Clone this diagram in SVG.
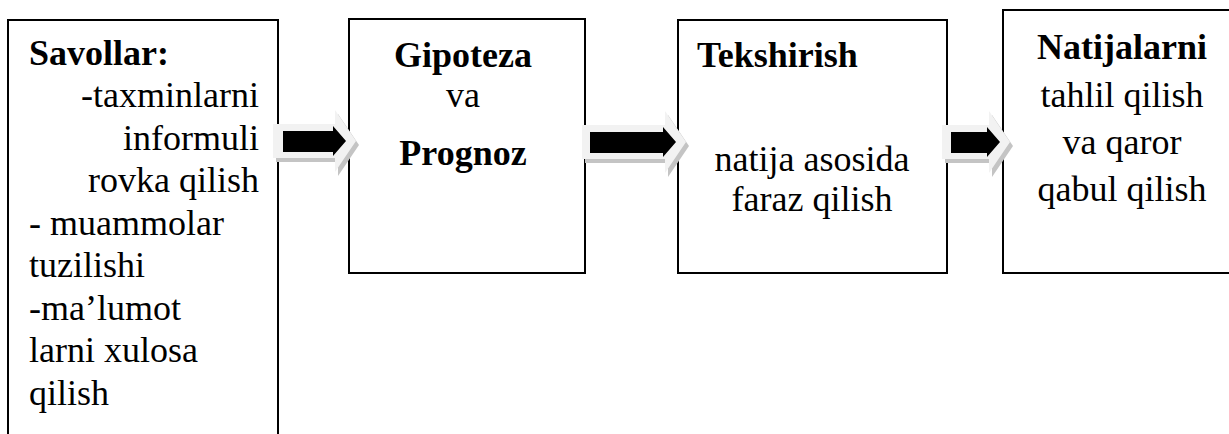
<svg xmlns="http://www.w3.org/2000/svg" width="1229" height="434" viewBox="0 0 1229 434">
<style>
.box{fill:#fff;stroke:#000;stroke-width:2}
text{font-family:'Liberation Serif','Times New Roman',serif;font-size:36px;fill:#000}
.b{font-weight:bold}
.m{text-anchor:middle}
.e{text-anchor:end}
.out{fill:#f2f2f2}
.in{fill:#000}
.sh{fill:#c4c4c4}
</style>
<rect width="1229" height="434" fill="#fff"/>
<g id="node1">
  <rect class="box" x="8" y="20" width="270" height="430"/>
  <text class="b" x="29" y="65">Savollar:</text>
  <text class="e" x="259" y="107">-taxminlarni</text>
  <text class="e" x="259" y="150">informuli</text>
  <text class="e" x="259" y="192">rovka qilish</text>
  <text x="29" y="235">- muammolar</text>
  <text x="29" y="277">tuzilishi</text>
  <text x="29" y="320">-ma’lumot</text>
  <text x="29" y="362">larni xulosa</text>
  <text x="29" y="405">qilish</text>
</g>
<g id="node2">
  <rect class="box" x="349" y="19" width="236" height="254"/>
  <text class="b m" x="463" y="67">Gipoteza</text>
  <text class="m" x="463" y="107">va</text>
  <text class="b m" x="463" y="165">Prognoz</text>
</g>
<g id="node3">
  <rect class="box" x="678" y="20" width="269" height="253"/>
  <text class="b" x="697" y="67">Tekshirish</text>
  <text class="m" x="812" y="171">natija asosida</text>
  <text class="m" x="812" y="211">faraz qilish</text>
</g>
<g id="node4">
  <rect class="box" x="1003" y="10" width="240" height="263"/>
  <text class="b m" x="1122" y="59">Natijalarni</text>
  <text class="m" x="1122" y="107">tahlil qilish</text>
  <text class="m" x="1122" y="154">va qaror</text>
  <text class="m" x="1122" y="201">qabul qilish</text>
</g>
<g id="connectors">
  <g id="arrow1" transform="translate(273,110)">
    <path class="sh" d="M3,18 H65 V4 L86,35 L65,66 V52 H3 Z"/>
    <path class="out" d="M0,14 H62 V0 L83,31 L62,62 V48 H0 Z"/>
    <path class="in" d="M10,21 H60 V16 L73,31 L60,46 V42 H10 Z"/>
  </g>
  <g id="arrow2" transform="translate(582,111)">
    <path class="sh" d="M3,18 H86 V4 L107,35 L86,66 V52 H3 Z"/>
    <path class="out" d="M0,14 H83 V0 L104,31 L83,62 V48 H0 Z"/>
    <path class="in" d="M8,21 H81 V16 L94,31 L81,46 V42 H8 Z"/>
  </g>
  <g id="arrow3" transform="translate(942,111)">
    <path class="sh" d="M3,18 H50 V4 L71,35 L50,66 V52 H3 Z"/>
    <path class="out" d="M0,14 H47 V0 L68,31 L47,62 V48 H0 Z"/>
    <path class="in" d="M9,21 H45 V16 L58,31 L45,46 V42 H9 Z"/>
  </g>
</g>
</svg>
